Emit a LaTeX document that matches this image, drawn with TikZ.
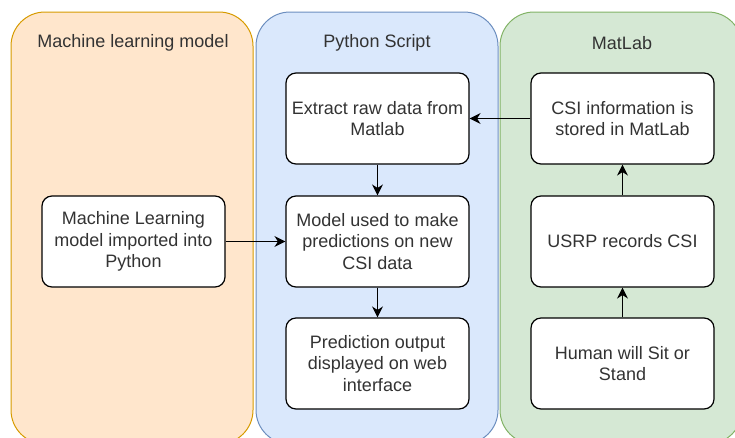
\documentclass[tikz,border=0pt]{standalone}
\usepackage{fontspec}
\setmainfont{Liberation Sans}
\usetikzlibrary{arrows.meta}
\definecolor{mlfill}{HTML}{FFE6CC}
\definecolor{mlline}{HTML}{D79B00}
\definecolor{pyfill}{HTML}{DAE8FC}
\definecolor{pyline}{HTML}{6C8EBF}
\definecolor{mtfill}{HTML}{D5E8D4}
\definecolor{mtline}{HTML}{82B366}
\definecolor{txtgray}{HTML}{333333}
\begin{document}
\begin{tikzpicture}[x=1pt,y=-1pt,
    lane/.style={rounded corners=34pt,line width=1pt},
    title/.style={text=txtgray,font=\fontsize{18}{21.6}\selectfont},
    stepbox/.style={draw,fill=white,rounded corners=10pt,line width=1.2pt,
      minimum width=183pt,minimum height=91pt,align=center,
      text=txtgray,font=\fontsize{18}{21.6}\selectfont},
    flow/.style={-{Stealth[length=11pt,width=11pt]},line width=1.2pt}]
    \useasboundingbox (0,0) rectangle (735,437);
    % lanes
    \draw[lane,fill=mlfill,draw=mlline] (11,12) rectangle (253,444);
    \draw[lane,fill=pyfill,draw=pyline] (256,12) rectangle (498,444);
    \draw[lane,fill=mtfill,draw=mtline] (500,12) rectangle (742,444);
    \node[title] (mltitle) at (133,43) {Machine learning model};
    \node[title] (pytitle) at (377,43) {Python Script};
    \node[title] (mttitle) at (622,43) {MatLab};
    % steps
    \node[stepbox] (import) at (133.5,241.5) {Machine Learning\\model imported into\\Python};
    \node[stepbox] (extract) at (377.5,118.5) {Extract raw data from\\Matlab};
    \node[stepbox] (predict) at (377.5,241.5) {Model used to make\\predictions on new\\CSI data};
    \node[stepbox] (output) at (377.5,363.5) {Prediction output\\displayed on web\\interface};
    \node[stepbox] (stored) at (622.5,118.5) {CSI information is\\stored in MatLab};
    \node[stepbox] (usrp) at (622.5,241.5) {USRP records CSI};
    \node[stepbox] (human) at (622.5,363.5) {Human will Sit or\\Stand};
    % arrows
    \draw[flow] (human) -- (usrp);
    \draw[flow] (usrp) -- (stored);
    \draw[flow] (stored) -- (extract);
    \draw[flow] (extract) -- (predict);
    \draw[flow] (predict) -- (output);
    \draw[flow] (import) -- (predict);
  \end{tikzpicture}
\end{document}
